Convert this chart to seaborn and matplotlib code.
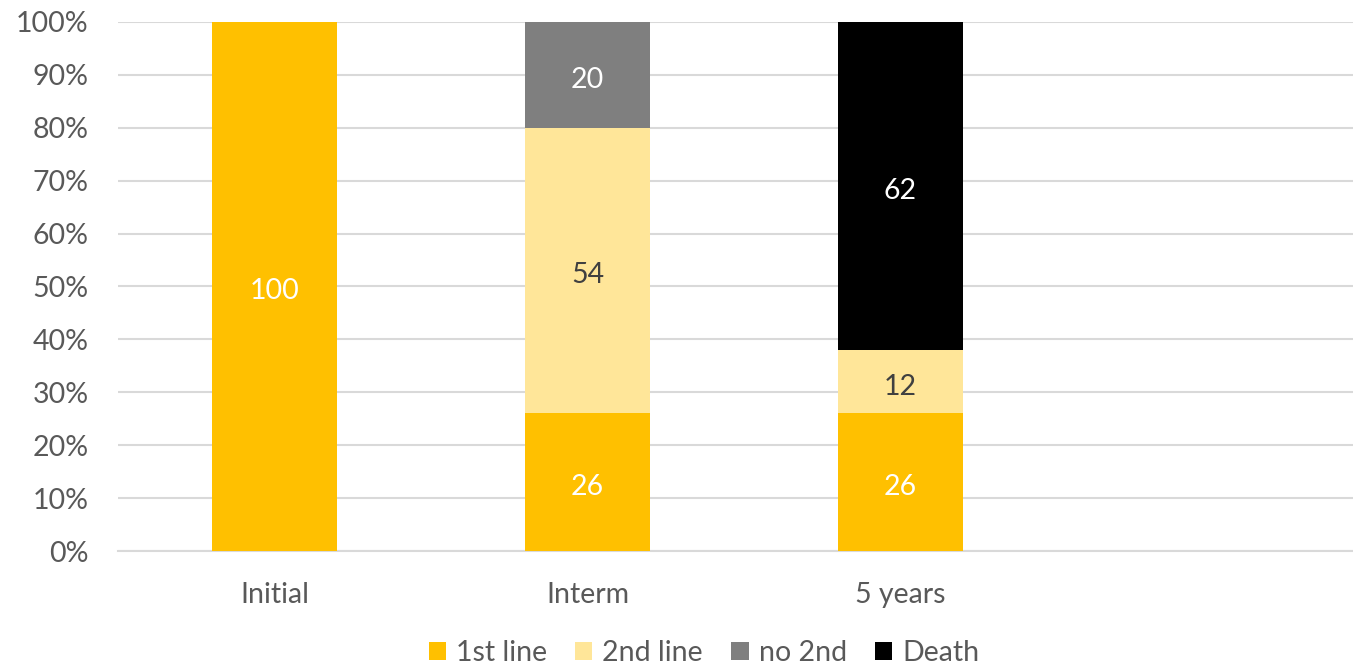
import matplotlib
matplotlib.use("Agg")
import matplotlib.pyplot as plt
import matplotlib.transforms as mtransforms
import seaborn as sns
import numpy as np
import pandas as pd
from matplotlib.ticker import PercentFormatter, MultipleLocator
from matplotlib.patches import Patch

categories = ["Initial", "Interm", "5 years", ""]
first_line = [100, 26, 26, 0]
second_line = [0, 54, 12, 0]
no_second = [0, 20, 0, 0]
death = [0, 0, 62, 0]

series_names = ["1st line", "2nd line", "no 2nd", "Death"]
series_values = [first_line, second_line, no_second, death]
colors = ["#FFC000", "#FFE699", "#7F7F7F", "#000000"]
label_colors = ["white", "#404040", "white", "white"]

sns.set_style("white")
plt.rcParams['font.family'] = ['Lato', 'DejaVu Sans']
FS = 20.5

fig = plt.figure(figsize=(13.53, 6.70), dpi=100)
ax = fig.add_axes([118/1353, 1 - 551/670, 1252/1353, (551-22)/670])
label_tr = ax.transData + mtransforms.ScaledTranslation(0, -3.5/72, fig.dpi_scale_trans)

bottom = np.zeros(len(categories))
for name, vals, col, lc in zip(series_names, series_values, colors, label_colors):
    v = np.array(vals, dtype=float)
    frac = v / 100.0
    df = pd.DataFrame({"cat": categories, "val": frac})
    sns.barplot(data=df, x="cat", y="val", order=categories, color=col,
                width=0.4, bottom=bottom.copy(), ax=ax, saturation=1,
                linewidth=0, zorder=3, errorbar=None)
    for i, (b, f, raw) in enumerate(zip(bottom, frac, v)):
        if raw > 0:
            ax.text(i, b + f / 2, f"{int(raw)}", ha="center", va="center",
                    color=lc, fontsize=FS, zorder=4, transform=label_tr)
    bottom = bottom + frac

ax.set_xlim(-0.5, len(categories) - 0.5)
ax.set_ylim(0, 1)
ax.yaxis.set_major_locator(MultipleLocator(0.1))
ax.yaxis.set_major_formatter(PercentFormatter(1.0, decimals=0))
ax.grid(axis="y", color="#D9D9D9", linewidth=1.5, zorder=0)
ax.set_axisbelow(True)
for s in ["top", "right", "left"]:
    ax.spines[s].set_visible(False)
ax.spines["bottom"].set_color("#D9D9D9")
ax.spines["bottom"].set_linewidth(1.5)
ax.set_xlabel("")
ax.set_ylabel("")
ax.tick_params(axis="both", length=0, labelsize=FS, colors="#595959")
ax.tick_params(axis="y", pad=21)
ax.tick_params(axis="x", pad=22)

handles = [Patch(facecolor=c, edgecolor="none") for c in colors]
fig.legend(handles, series_names, loc="center", bbox_to_anchor=(704/1353, 1 - 653/670),
           ncol=4, frameon=False, fontsize=FS, handlelength=0.6, handleheight=0.6,
           handletextpad=0.35, columnspacing=1.0, labelcolor="#595959")

fig.savefig("out.png", dpi=100)
